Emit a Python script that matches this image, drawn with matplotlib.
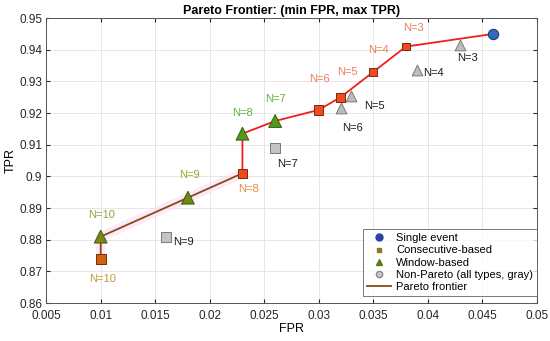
import numpy as np
import matplotlib
matplotlib.use("Agg")
import matplotlib.pyplot as plt
from matplotlib.lines import Line2D

plt.rcParams['font.family'] = ['Liberation Sans', 'DejaVu Sans']

# Pareto points
single_fpr, single_tpr = [0.046], [0.945]

cons_n = [3, 4, 5, 6, 8, 10]
cons_fpr = [0.038, 0.035, 0.032, 0.030, 0.023, 0.010]
cons_tpr = [0.941, 0.933, 0.925, 0.921, 0.901, 0.874]

win_n = [7, 8, 9, 10]
win_fpr = [0.026, 0.023, 0.018, 0.010]
win_tpr = [0.9175, 0.9135, 0.8933, 0.881]

# non-Pareto (gray)
gtri_n = [3, 4, 5, 6]
gtri_fpr = [0.043, 0.039, 0.033, 0.032]
gtri_tpr = [0.9415, 0.9335, 0.9255, 0.9215]
gsq_n = [7, 9]
gsq_fpr = [0.026, 0.016]
gsq_tpr = [0.909, 0.881]

# frontier order (by FPR descending)
front_fpr = [0.046, 0.038, 0.035, 0.032, 0.030, 0.026, 0.023, 0.023, 0.018, 0.010, 0.010]
front_tpr = [0.945, 0.941, 0.933, 0.925, 0.921, 0.9175, 0.9135, 0.901, 0.8933, 0.881, 0.874]

fig = plt.figure(figsize=(5.5, 3.41), dpi=100)
ax = fig.add_axes([0.084, 0.111, 0.892, 0.836])

# frontier: red upper part, brown lower part with faint pink glow
ax.plot(front_fpr[7:], front_tpr[7:], color='#f9d8f2', lw=7, alpha=0.5, zorder=2,
        solid_capstyle='round')
ax.plot(front_fpr[:8], front_tpr[:8], color='#f21d1d', lw=1.3, zorder=3)
ax.plot(front_fpr[7:], front_tpr[7:], color='#8a4a14', lw=1.3, zorder=3)

# gray non-Pareto
ax.scatter(gtri_fpr, gtri_tpr, marker='^', s=60, c='#bdbdbd', edgecolors='#7a7a7a',
           linewidths=0.7, zorder=4)
ax.scatter(gsq_fpr, gsq_tpr, marker='s', s=45, c='#c4c4c4', edgecolors='#7a7a7a',
           linewidths=0.7, zorder=4)

# Pareto markers
cons_col = ['#f24a1f', '#f24a1f', '#f24a1f', '#f24a1f', '#f04a18', '#d0620e']
win_col = ['#4f9a1c', '#4f9a1c', '#6f8a12', '#7d8712']
ax.scatter(single_fpr, single_tpr, marker='o', s=55, c='#2d6bbd', edgecolors='#1d3c78',
           linewidths=0.8, zorder=5)
ax.scatter(cons_fpr, cons_tpr, marker='s', s=[30, 30, 38, 45, 45, 55], c=cons_col,
           edgecolors='#7a2a10', linewidths=0.7, zorder=5)
ax.scatter(win_fpr, win_tpr, marker='^', s=85, c=win_col, edgecolors='#3e5a10',
           linewidths=0.7, zorder=5)

# labels
fs = 8
cons_lab = [(0.0387, 0.9468, '#f07a55'), (0.0355, 0.9400, '#f07a55'),
            (0.0326, 0.9329, '#f07a55'), (0.0301, 0.9307, '#f07a55'),
            (0.0236, 0.8959, '#d9903c'), (0.0102, 0.8677, '#c8983c')]
for n, (x, y, c) in zip(cons_n, cons_lab):
    ax.text(x, y, f'N={n}', color=c, fontsize=fs, ha='center', va='center')
win_lab = [(0.0260, 0.9246, '#62b23c'), (0.0230, 0.9200, '#62b23c'),
           (0.0181, 0.9006, '#86ac30'), (0.0101, 0.8878, '#98a040')]
for n, (x, y, c) in zip(win_n, win_lab):
    ax.text(x, y, f'N={n}', color=c, fontsize=fs, ha='center', va='center')
gray_lab = [(3, 0.0436, 0.9373), (4, 0.0405, 0.9326), (5, 0.0351, 0.9222),
            (6, 0.0331, 0.9152), (7, 0.0271, 0.9038), (9, 0.0176, 0.8794)]
for n, x, y in gray_lab:
    ax.text(x, y, f'N={n}', color='#1a1a1a', fontsize=fs, ha='center', va='center')

ax.set_xlim(0.005, 0.05)
ax.set_ylim(0.86, 0.95)
ax.set_xticks(np.arange(0.005, 0.0501, 0.005))
ax.set_xticklabels(['0.005', '0.01', '0.015', '0.02', '0.025', '0.03', '0.035',
                    '0.04', '0.045', '0.05'])
ax.set_yticks(np.arange(0.86, 0.9501, 0.01))
ax.set_yticklabels(['0.86', '0.87', '0.88', '0.89', '0.9', '0.91', '0.92', '0.93',
                    '0.94', '0.95'])
ax.grid(True, color='#e6e6e6', lw=0.7)
ax.set_axisbelow(True)
ax.tick_params(direction='in', length=3, labelsize=8.5, colors='#262626',
               top=True, right=True, pad=3)
ax.tick_params(axis='x', pad=5)
for s in ax.spines.values():
    s.set_color('#555555')
    s.set_linewidth(0.7)
ax.set_xlabel('FPR', fontsize=9, labelpad=1)
ax.set_ylabel('TPR', fontsize=9, labelpad=2)
ax.set_title('Pareto Frontier: (min FPR, max TPR)', fontsize=9, fontweight='bold', pad=3)

handles = [
    Line2D([], [], marker='o', ls='none', color='#2d3fa0', markersize=5),
    Line2D([], [], marker='s', ls='none', color='#8a7a20', markersize=3.5),
    Line2D([], [], marker='^', ls='none', color='#5a7a1c', markersize=5),
    Line2D([], [], marker='o', ls='none', markerfacecolor='#c8c8c8',
           markeredgecolor='#8a8a8a', markersize=4.5),
    Line2D([], [], color='#8a4a14', lw=1.3),
]
labels = ['Single event', 'Consecutive-based', 'Window-based',
          'Non-Pareto (all types, gray)', 'Pareto frontier']
leg = ax.legend(handles, labels, loc='lower right', bbox_to_anchor=(1.0, 0.025),
                fontsize=8, frameon=True, fancybox=False, edgecolor='#555555',
                borderaxespad=0, handlelength=2.2, handletextpad=0.4,
                labelspacing=0.2, borderpad=0.35)
leg.get_frame().set_linewidth(0.7)

fig.savefig('out.png', dpi=100)
